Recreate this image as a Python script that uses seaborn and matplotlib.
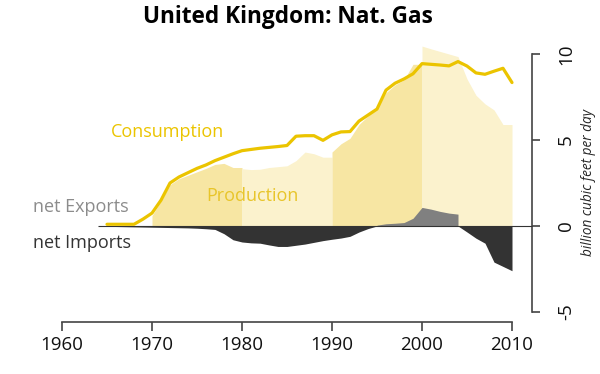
import numpy as np
import pandas as pd
import seaborn as sns
import matplotlib.pyplot as plt

# UK natural gas, billion cubic feet per day
cons_years = list(range(1965, 2011))
consumption = [0.10, 0.10, 0.10, 0.10, 0.40, 0.75, 1.50, 2.50, 2.85, 3.10,
               3.35, 3.55, 3.80, 4.00, 4.20, 4.38, 4.45, 4.52, 4.57, 4.62,
               4.68, 5.22, 5.25, 5.25, 4.98, 5.30, 5.47, 5.49, 6.10, 6.45,
               6.80, 7.90, 8.30, 8.55, 8.85, 9.44, 9.40, 9.36, 9.31, 9.56,
               9.30, 8.90, 8.82, 9.00, 9.17, 8.34]

prod_years = list(range(1970, 2010))
production = [0.60, 1.45, 2.40, 2.75, 2.95, 3.15, 3.35, 3.58, 3.64, 3.40,
              3.33, 3.28, 3.30, 3.40, 3.45, 3.50, 3.80, 4.30, 4.20, 4.00,
              4.30, 4.78, 5.10, 5.90, 6.40, 6.90, 7.75, 8.20, 8.50, 9.40,
              10.46, 10.30, 10.15, 10.00, 9.85, 8.55, 7.60, 7.10, 6.75, 5.90]

imp_years_early = list(range(1964, 1996))
imports_early = [0.00, 0.02, 0.03, 0.04, 0.05, 0.06, 0.07, 0.08, 0.09, 0.10,
                 0.11, 0.13, 0.16, 0.20, 0.45, 0.80, 0.93, 0.98, 1.00, 1.10,
                 1.19, 1.19, 1.12, 1.05, 0.95, 0.85, 0.77, 0.70, 0.60, 0.35,
                 0.15, 0.00]

exp_years = list(range(1995, 2005))
exports = [0.05, 0.13, 0.16, 0.20, 0.45, 1.08, 0.98, 0.85, 0.75, 0.69]

imp_years_late = list(range(2004, 2011))
imports_late = [0.00, 0.35, 0.71, 1.00, 2.10, 2.35, 2.60]

decades = [1970, 1980, 1990, 2000]
decade_colors = ['#F7E6A3', '#FBF2CD', '#F7E6A3', '#FBF2CD']
x_ticks = [1960, 1970, 1980, 1990, 2000, 2010]
y_ticks = [-5, 0, 5, 10]

gold = '#EBC400'
axis_col = '#444444'

sns.set_style('white')
plt.rcParams['font.family'] = ['Open Sans', 'DejaVu Sans']

fig = plt.figure(figsize=(6, 3.74), dpi=100)
ax = fig.add_axes([35 / 600, 0.1198, 504 / 600, 0.7818])

# production, shaded by decade
prod = pd.Series(production, index=prod_years)
for d, c in zip(decades, decade_colors):
    seg = prod.loc[d:d + 9]
    xs = list(seg.index) + [d + 10]
    ys = list(seg.values) + [seg.values[-1]]
    ax.fill_between(xs, 0, ys, color=c, lw=0, zorder=1)

# net trade
ax.fill_between(exp_years, 0, exports, color='#808080', lw=0, zorder=2)
ax.fill_between(imp_years_early, 0, -np.array(imports_early),
                color='#333333', lw=0, zorder=2)
ax.fill_between(imp_years_late, 0, -np.array(imports_late),
                color='#333333', lw=0, zorder=2)
ax.hlines(0, imp_years_early[0], 2012.2, color='#333333', lw=0.8, zorder=3)

df = pd.DataFrame({'year': cons_years, 'bcfd': consumption})
sns.lineplot(data=df, x='year', y='bcfd', color=gold, lw=2.3, ax=ax, zorder=4)

ax.text(1971.7, 5.48, 'Consumption', color=gold, fontsize=13,
        ha='center', va='center')
ax.text(1981.2, 1.74, 'Production', color='#E8C52A', fontsize=13,
        ha='center', va='center')
ax.text(1956.8, 1.10, 'net Exports', color='#8C8C8C', fontsize=13,
        ha='left', va='center', clip_on=False)
ax.text(1956.8, -0.99, 'net Imports', color='#333333', fontsize=13,
        ha='left', va='center', clip_on=False)

ax.set_xlim(1957, 2013)
ax.set_ylim(-6, 11)
ax.set_xlabel('')
ax.set_ylabel('')

# R-style detached axes
for s in ['top', 'left']:
    ax.spines[s].set_visible(False)
ax.spines['bottom'].set_position(('data', -5.56))
ax.spines['bottom'].set_bounds(1960, 2010)
ax.spines['right'].set_position(('data', 2012.2))
ax.spines['right'].set_bounds(-5, 10)
for s in ['bottom', 'right']:
    ax.spines[s].set_color(axis_col)
    ax.spines[s].set_linewidth(1.2)

ax.set_xticks(x_ticks)
ax.set_xticklabels([str(t) for t in x_ticks])
ax.yaxis.tick_right()
ax.set_yticks(y_ticks)
ax.set_yticklabels([str(t) for t in y_ticks], rotation=90, va='center')
ax.tick_params(axis='x', direction='out', length=6.5, width=1.2,
               color=axis_col, labelsize=13.5, labelcolor='#111111', pad=4,
               bottom=True)
ax.tick_params(axis='y', direction='out', length=6, width=1.2,
               color=axis_col, labelsize=13.5, labelcolor='#111111', pad=12,
               right=True, left=False)
ax.grid(False)

fig.text(288 / 600, 1 - 17 / 374, 'United Kingdom: Nat. Gas',
         fontsize=16.3, fontweight='bold', color='black',
         ha='center', va='center')
fig.text(588 / 600, 1 - 183 / 374, 'billion cubic feet per day',
         fontsize=9.8, style='italic', rotation=90, ha='center', va='center')

fig.savefig('out.png', dpi=100)
